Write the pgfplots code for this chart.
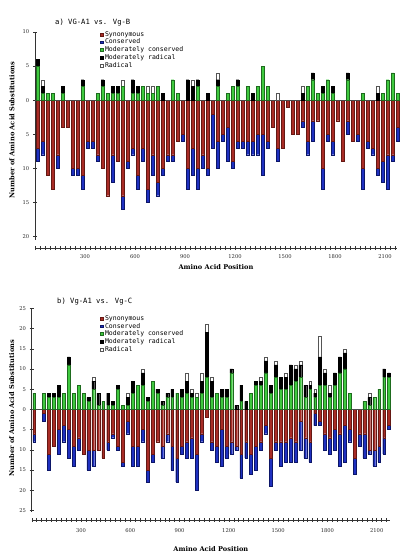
\documentclass[border=0pt]{standalone}
\usepackage{fontspec}
\setmainfont{DejaVu Serif}
\newfontfamily\monofont{DejaVu Sans Mono}
\usepackage{pgfplots}
\usepackage{pgfplotstable}
\pgfplotsset{compat=1.18}

\definecolor{synC}{HTML}{A82C26}
\definecolor{synD}{HTML}{651813}
\definecolor{consC}{HTML}{1F30C0}
\definecolor{consD}{HTML}{0C1668}
\definecolor{mconsC}{HTML}{3FC93F}
\definecolor{mconsD}{HTML}{1E6B1E}
\definecolor{radD}{HTML}{555555}

\newcommand{\ticksize}{\fontsize{5.2}{6}\selectfont}
\newcommand{\labsize}{\bfseries\fontsize{6.6}{8}\selectfont}
\newcommand{\legsize}{\monofont\fontsize{6.5}{7.5}\selectfont}
\newcommand{\titsize}{\monofont\fontsize{7.2}{8.5}\selectfont}

% a) VG-A1 vs. Vg-B
\pgfplotstableread{
x syn cons mcons mrad rad
15 7 2 5 1 0
45 6 2 1 1 1
75 11 0 1 0 0
105 13 0 1 0 0
135 8 2 0 0 0
165 4 0 1 1 0
195 4 0 0 0 0
225 10 1 0 0 0
255 10 1 0 0 0
285 11 2 2 1 0
315 6 1 0 0 0
345 6 1 0 0 0
375 8 1 1 0 0
405 10 0 2 1 0
435 14 0 1 0 0
465 8 4 1 1 0
495 9 0 1 1 0
525 14 2 2 0 1
555 9 1 0 0 0
585 7 1 1 2 0
615 11 2 1 1 0
645 7 2 2 0 0
675 13 2 1 0 1
705 8 3 1 0 1
735 12 2 2 0 0
765 10 1 0 1 0
795 8 1 0 0 0
825 8 1 3 0 0
855 6 0 1 0 0
885 5 1 0 0 0
915 10 3 0 3 0
945 7 4 0 2 1
975 10 3 2 1 0
1005 8 2 0 0 0
1035 10 1 0 1 0
1065 2 5 0 0 0
1095 6 4 2 1 1
1125 5 1 0 0 0
1155 4 5 1 0 0
1185 9 1 2 0 0
1215 6 1 2 1 0
1245 6 1 0 0 0
1275 6 2 2 0 0
1305 6 2 0 1 0
1335 5 3 2 0 0
1365 5 6 5 0 0
1395 6 1 2 0 0
1425 4 0 0 0 0
1455 7 2 0 0 1
1485 7 0 0 0 0
1515 1 0 0 0 0
1545 5 0 0 0 0
1575 5 0 0 0 0
1605 3 1 0 1 1
1635 6 2 2 0 0
1665 3 3 3 1 0
1695 3 0 1 0 0
1725 10 3 1 1 0
1755 5 1 3 0 0
1785 6 2 1 1 0
1815 3 0 0 0 0
1845 9 0 0 0 0
1875 3 2 3 1 0
1905 6 0 0 0 0
1935 5 1 0 0 0
1965 10 3 1 0 0
1995 6 1 0 0 0
2025 7 1 0 0 0
2055 10 1 0 1 1
2085 9 3 1 0 0
2115 8 5 3 0 0
2145 8 1 4 0 0
2175 4 2 1 0 0
}\topdata

% b) Vg-A1 vs. Vg-C
\pgfplotstableread{
x syn cons mcons mrad rad
15 6 2 4 0 0
45 0 0 0 0 0
75 1 2 4 0 0
105 11 4 3 1 0
135 9 0 3 1 0
165 5 6 3 3 0
195 4 4 4 0 0
225 5 7 11 2 0
255 9 5 4 0 0
285 7 3 6 0 0
315 11 0 4 0 0
345 10 5 2 1 0
375 10 4 5 2 1
405 10 0 1 3 0
435 12 0 2 0 0
465 8 2 1 3 0
495 6 1 1 1 0
525 9 1 5 1 0
555 13 1 1 0 0
585 3 3 1 2 1
615 9 5 4 3 0
645 9 5 6 0 0
675 5 3 6 3 1
705 15 3 2 1 0
735 11 2 7 0 0
765 8 0 4 1 0
795 9 3 1 1 0
825 6 2 3 1 0
855 9 6 3 2 0
885 12 6 4 0 0
915 9 2 3 2 0
945 8 4 4 3 2
975 7 5 3 1 1
1005 11 9 3 0 1
1035 6 2 4 3 2
1065 2 0 8 11 2
1095 8 2 3 4 1
1125 9 4 4 0 0
1155 5 9 3 2 0
1185 9 3 3 2 0
1215 8 3 9 1 0
1245 9 1 0 1 0
1275 11 6 2 4 0
1305 8 4 0 2 0
1335 11 5 4 0 0
1365 9 6 6 1 0
1395 8 2 6 1 1
1425 4 2 9 3 1
1455 12 7 4 2 0
1485 8 2 8 3 1
1515 8 6 5 3 0
1545 8 5 5 3 1
1575 7 6 6 5 0
1605 8 5 7 3 1
1635 3 7 8 3 1
1665 7 5 3 3 0
1695 8 5 5 1 1
1725 1 3 3 1 1
1755 3 1 6 7 5
1785 6 4 6 3 1
1815 7 4 3 1 2
1845 5 5 6 3 0
1875 6 8 9 4 0
1905 4 9 10 4 1
1935 5 3 4 0 0
1965 12 4 0 0 0
1995 6 3 0 0 0
2025 6 6 2 0 0
2055 10 1 1 2 1
2085 10 4 3 0 0
2115 9 4 5 0 0
2145 7 4 8 2 0
2175 4 1 8 1 0
}\botdata

\pgfplotsset{
 synS/.style={fill=synC, draw=synD, line width=0.25pt},
 consS/.style={fill=consC, draw=consD, line width=0.25pt},
 mconsS/.style={fill=mconsC, draw=mconsD, line width=0.25pt},
 mradS/.style={fill=black, draw=black, line width=0.25pt},
 radS/.style={fill=white, draw=radD, line width=0.3pt},
 geomA/.style={at={(35pt,314pt)}, anchor=south west, scale only axis,
   width=362pt, height=208pt, xmin=0, xmax=2172, ymin=-20.5, ymax=10,
   ybar stacked, bar width=2.8pt, clip=false},
 geomB/.style={at={(31.7pt,41.9pt)}, anchor=south west, scale only axis,
   width=358.3pt, height=203.8pt, xmin=0, xmax=2181, ymin=-25.4, ymax=25,
   ybar stacked, bar width=2.8pt, clip=false},
 yaxisstyle/.style={axis y line*=left, axis x line=none, xtick=\empty,
   tick align=center, major tick length=4pt,
   every tick/.style={black!80, line width=0.45pt},
   y axis line style={black!80, line width=0.5pt},
   yticklabel style={font=\ticksize, inner sep=0pt, xshift=-3.5pt, text=black!85}},
 hiddenaxis/.style={axis lines=none, ticks=none},
 legstyle/.style={legend cell align=left,
   legend image code/.code={\draw[##1, line width=0.35pt] (0pt,-1.4pt) rectangle (2.8pt,1.4pt);},
   legend style={draw=none, fill=none, font=\legsize, row sep=1.3pt, inner sep=0pt,
     nodes={inner sep=0pt, text height=5pt, text depth=1.5pt},
     /tikz/every odd column/.append style={column sep=1.7pt}}},
 xaxisstyle/.style={anchor=south west, scale only axis, height=2pt, ymin=0, ymax=1,
   axis x line*=bottom, axis y line=none, ytick=\empty,
   xtick={300,600,...,2100}, xticklabels={300,600,900,1200,1500,1800,2100},
   tick align=center, major tick length=3.6pt, minor tick length=3.6pt,
   every tick/.style={black!80, line width=0.4pt},
   x axis line style={black!80, line width=0.5pt},
   xticklabel style={font=\ticksize, inner sep=0pt, text=black!85},
   xlabel={Amino Acid Position}},
}

\begin{document}
\begin{tikzpicture}
\path[use as bounding box] (0pt,0pt) rectangle (407pt,554pt);

% ---------------- panel a ----------------
\node[anchor=west, font=\titsize, inner sep=0pt] at (55pt,531pt) {a) VG-A1 vs. Vg-B};
\node[rotate=90, font=\labsize, inner sep=0pt] at (12pt,424pt) {Number of Amino Acid Substitutions};

\begin{axis}[geomA, yaxisstyle,
  ytick={-20,-15,...,10}, yticklabels={20,15,10,5,0,5,10}]
\addplot[synS] table[x=x, y expr=-\thisrow{syn}] {\topdata};
\addplot[consS] table[x=x, y expr=-\thisrow{cons}] {\topdata};
\end{axis}

\begin{axis}[geomA, hiddenaxis, legstyle,
  legend style={at={(0.1796,1.005)}, anchor=north west}]
\addlegendimage{synS}\addlegendentry{Synonymous}
\addlegendimage{consS}\addlegendentry{Conserved}
\addplot[mconsS] table[x=x, y=mcons] {\topdata};
\addlegendentry{Moderately conserved}
\addplot[mradS] table[x=x, y=mrad] {\topdata};
\addlegendentry{Moderately radical}
\addplot[radS] table[x=x, y=rad] {\topdata};
\addlegendentry{Radical}
\draw[black!70, line width=0.5pt] (axis cs:0,0) -- (axis cs:2172,0);
\end{axis}

\begin{axis}[xaxisstyle, at={(35pt,305.7pt)}, width=362pt, xmin=0, xmax=2172,
  minor xtick={0,30,...,2160},
  xticklabel style={yshift=-4.8pt},
  xlabel style={font=\labsize, at={(axis description cs:0.5,0)}, anchor=center, yshift=-18.7pt}]
\end{axis}

% ---------------- panel b ----------------
\node[anchor=west, font=\titsize, inner sep=0pt] at (57pt,252pt) {b) Vg-A1 vs. Vg-C};
\node[rotate=90, font=\labsize, inner sep=0pt] at (11.7pt,146pt) {Number of Amino Acid Substitutions};

\begin{axis}[geomB, yaxisstyle,
  ytick={-25,-20,...,25}, yticklabels={25,20,15,10,5,0,5,10,15,20,25}]
\addplot[synS] table[x=x, y expr=-\thisrow{syn}] {\botdata};
\addplot[consS] table[x=x, y expr=-\thisrow{cons}] {\botdata};
\end{axis}

\begin{axis}[geomB, hiddenaxis, legstyle,
  legend style={at={(0.1906,0.967)}, anchor=north west}]
\addlegendimage{synS}\addlegendentry{Synonymous}
\addlegendimage{consS}\addlegendentry{Conserved}
\addplot[mconsS] table[x=x, y=mcons] {\botdata};
\addlegendentry{Moderately conserved}
\addplot[mradS] table[x=x, y=mrad] {\botdata};
\addlegendentry{Moderately radical}
\addplot[radS] table[x=x, y=rad] {\botdata};
\addlegendentry{Radical}
\draw[black!70, line width=0.5pt] (axis cs:0,0) -- (axis cs:2181,0);
\end{axis}

\begin{axis}[xaxisstyle, at={(31.7pt,34pt)}, width=358.3pt, xmin=0, xmax=2181,
  minor xtick={0,30,...,2160},
  xticklabel style={yshift=-6.4pt},
  xlabel style={font=\labsize, at={(axis description cs:0.5,0)}, anchor=center, yshift=-29pt}]
\end{axis}
\end{tikzpicture}
\end{document}
